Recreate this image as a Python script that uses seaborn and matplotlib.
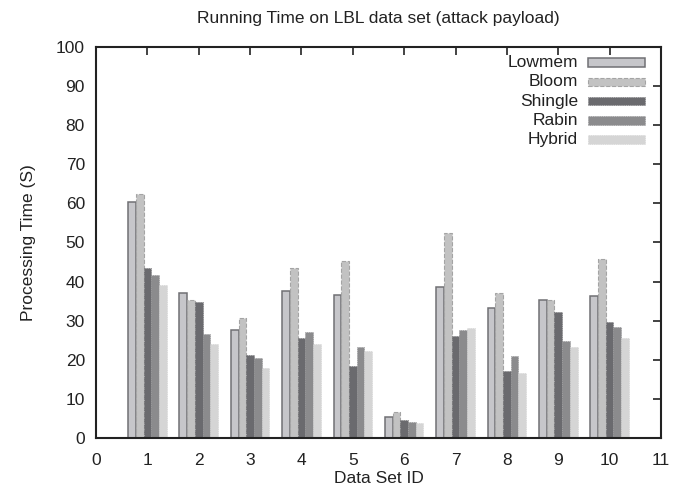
import matplotlib
matplotlib.use("Agg")
import matplotlib.pyplot as plt
import seaborn as sns
import pandas as pd
from matplotlib.patches import Rectangle

datasets = [1, 2, 3, 4, 5, 6, 7, 8, 9, 10]
series = ["Lowmem", "Bloom", "Shingle", "Rabin", "Hybrid"]
lowmem = [60.4, 37.2, 27.6, 37.5, 36.7, 5.3, 38.5, 33.2, 35.3, 36.2]
bloom = [62.3, 35.2, 30.8, 43.5, 45.3, 6.6, 52.5, 37.0, 35.2, 45.8]
shingle = [43.6, 34.7, 21.2, 25.6, 18.5, 4.7, 26.1, 17.2, 32.3, 29.7]
rabin = [41.6, 26.5, 20.4, 27.1, 23.4, 4.1, 27.6, 21.0, 24.9, 28.5]
hybrid = [39.1, 24.0, 17.9, 24.0, 22.3, 3.9, 28.1, 16.6, 23.4, 25.5]
xticks = list(range(0, 12))
yticks = list(range(0, 101, 10))

colors = ["#c6c6ca", "#c2c2c2", "#6a6a6e", "#8b8b8d", "#d5d5d5"]
edgecolors = ["#707074", "#a4a4a4", "#626266", "#848486", "#cdcdcd"]
linestyles = ["-", "--", ":", ":", ":"]
linewidths = [1.1, 0.8, 0.5, 0.5, 0.5]

values = [lowmem, bloom, shingle, rabin, hybrid]
rows = []
for s, vals in zip(series, values):
    for d, v in zip(datasets, vals):
        rows.append({"id": d, "series": s, "time": v})
df = pd.DataFrame(rows)

sns.set_style("white")
plt.rcParams["font.family"] = ["Liberation Sans", "DejaVu Sans"]

FS = 12.5
fig = plt.figure(figsize=(6.89, 4.90), dpi=100)
ax = fig.add_axes([96 / 689, 1 - 438 / 490, (661 - 96) / 689, (438 - 47) / 490])

sns.barplot(data=df, x="id", y="time", hue="series", hue_order=series,
            palette=colors, native_scale=True, width=0.75, errorbar=None,
            dodge=True, legend=False, ax=ax, saturation=1)

for cont, ec, ls, lw in zip(ax.containers, edgecolors, linestyles, linewidths):
    for bar in cont:
        bar.set_edgecolor(ec)
        bar.set_linestyle(ls)
        bar.set_linewidth(lw)

ax.set_xlim(0, 11)
ax.set_ylim(0, 100)
ax.set_xticks(xticks)
ax.set_xticklabels([str(t) for t in xticks])
ax.set_yticks(yticks)
ax.set_yticklabels([str(t) for t in yticks])
ax.tick_params(axis="both", direction="in", length=6, width=1.2,
               top=True, right=True, labelsize=FS, colors="#222222")
ax.tick_params(axis="y", pad=8)
ax.tick_params(axis="x", pad=11)
for sp in ax.spines.values():
    sp.set_visible(True)
    sp.set_color("#222222")
    sp.set_linewidth(1.5)

ax.set_xlabel("Data Set ID", fontsize=FS, color="#222222", labelpad=2)
ax.set_ylabel("Processing Time (S)", fontsize=FS, color="#222222", labelpad=14)
fig.text(0.5 * (96 + 661) / 689, 1 - 19 / 490, "Running Time on LBL data set (attack payload)",
         ha="center", va="center", fontsize=FS, color="#222222")

# gnuplot-style legend: right-aligned labels with sample boxes on the right
for i, (s, c, ec, ls, lw) in enumerate(zip(series, colors, edgecolors, linestyles, linewidths)):
    ypix = 62.5 + i * 19.3
    yax = (438 - ypix) / (438 - 47)
    ax.text((578 - 96) / 565, yax, s, transform=ax.transAxes, ha="right",
            va="center", fontsize=FS, color="#222222")
    ax.add_patch(Rectangle(((588 - 96) / 565, yax - 4.2 / 391), 57 / 565, 8.4 / 391,
                           transform=ax.transAxes, facecolor=c, edgecolor=ec,
                           linestyle=ls, linewidth=lw, clip_on=False))

fig.savefig("out.png", dpi=100)
